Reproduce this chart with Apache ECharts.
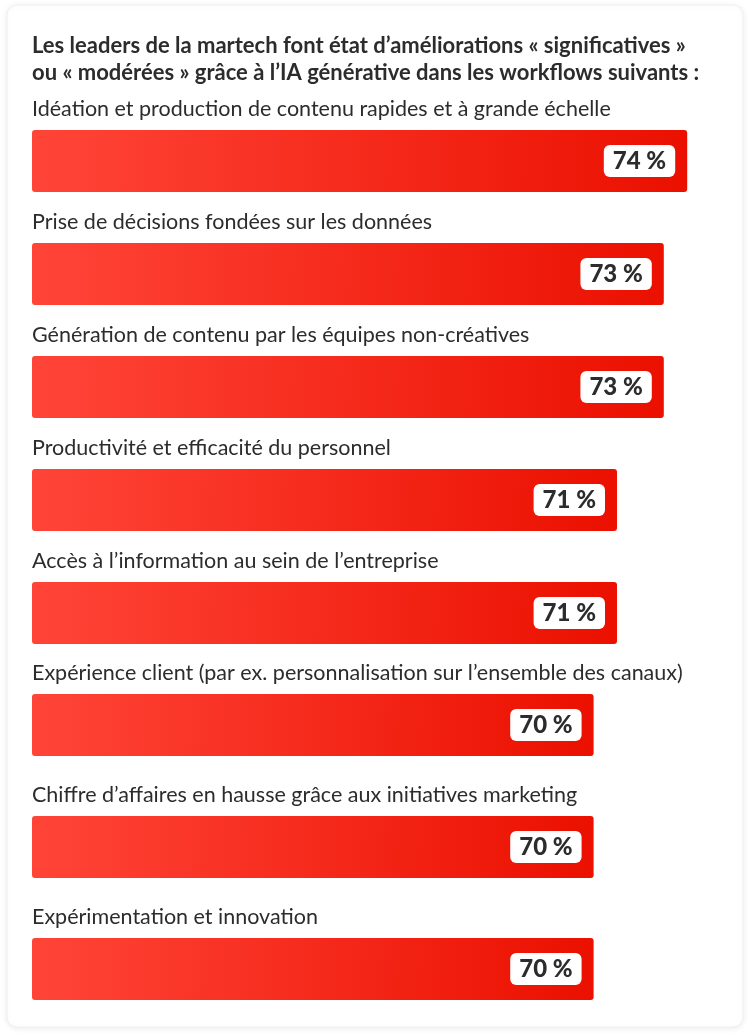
<!DOCTYPE html>
<html>
<head>
<meta charset="utf-8">
<script src="https://cdn.jsdelivr.net/npm/echarts@6/dist/echarts.min.js"></script>
<style>
  html, body { margin: 0; padding: 0; background: #fff; }
  #chart { width: 750px; height: 1034px; }
</style>
</head>
<body>
<div id="chart"></div>
<script>
// données
const titleLines = [
  'Les leaders de la martech font état d\u2019améliorations « significatives »',
  'ou « modérées » grâce à l\u2019IA générative dans les workflows suivants :'
]
const categories = [
  'Idéation et production de contenu rapides et à grande échelle',
  'Prise de décisions fondées sur les données',
  'Génération de contenu par les équipes non-créatives',
  'Productivité et efficacité du personnel',
  'Accès à l\u2019information au sein de l\u2019entreprise',
  'Expérience client (par ex. personnalisation sur l\u2019ensemble des canaux)',
  'Chiffre d\u2019affaires en hausse grâce aux initiatives marketing',
  'Expérimentation et innovation'
]
const values = [74, 73, 73, 71, 71, 70, 70, 70]

// mise en page
const rowTops = [130, 243, 356, 469, 582, 694, 816, 938]
const barHeight = 62
const FONT = 'Lato'

const chart = echarts.init(document.getElementById('chart'))

const barGradient = new echarts.graphic.LinearGradient(0, 0, 1, 0.3, [
  { offset: 0, color: '#ff4538' },
  { offset: 1, color: '#eb1000' }
])

let grids = [], xAxes = [], yAxes = [], series = []
categories.forEach((cat, i) => {
  grids.push({ left: 32, right: 16, top: rowTops[i], height: barHeight })
  xAxes.push({
    gridIndex: i, type: 'value', min: 46, max: 76,
    show: false
  })
  yAxes.push({
    gridIndex: i, type: 'category', data: [cat],
    axisLine: { show: false }, axisTick: { show: false }, axisLabel: { show: false },
    name: cat,
    nameLocation: 'end',
    nameGap: 10,
    nameTextStyle: {
      align: 'left', verticalAlign: 'bottom',
      fontFamily: FONT, fontSize: 21.5, color: '#2c2c2c'
    }
  })
  series.push({
    type: 'bar',
    xAxisIndex: i, yAxisIndex: i,
    data: [values[i]],
    barWidth: barHeight,
    itemStyle: { color: barGradient, borderRadius: 3 },
    label: {
      show: true,
      position: 'insideRight',
      distance: 12,
      formatter: p => p.value + ' %',
      backgroundColor: '#fff',
      borderRadius: 6,
      padding: [5, 9, 3, 9],
      fontFamily: FONT,
      fontWeight: 900,
      fontSize: 24,
      color: '#2c2c2c'
    },
    silent: true
  })
})

let option = {
  backgroundColor: '#fff',
  animation: false,
  graphic: [{
    type: 'rect',
    z: -10,
    shape: { x: 7, y: 5, width: 736, height: 1022, r: 10 },
    style: {
      fill: '#fff',
      stroke: '#f0f0f0',
      lineWidth: 1,
      shadowBlur: 6,
      shadowColor: 'rgba(0,0,0,0.08)',
      shadowOffsetY: 1
    }
  }],
  title: {
    text: titleLines.join('\n'),
    left: 32,
    top: 32,
    padding: 0,
    textStyle: {
      fontFamily: FONT, fontWeight: 'bold', fontSize: 22,
      color: '#2c2c2c', lineHeight: 27
    }
  },
  grid: grids,
  xAxis: xAxes,
  yAxis: yAxes,
  series: series
}

chart.setOption(option)
</script>
</body>
</html>
